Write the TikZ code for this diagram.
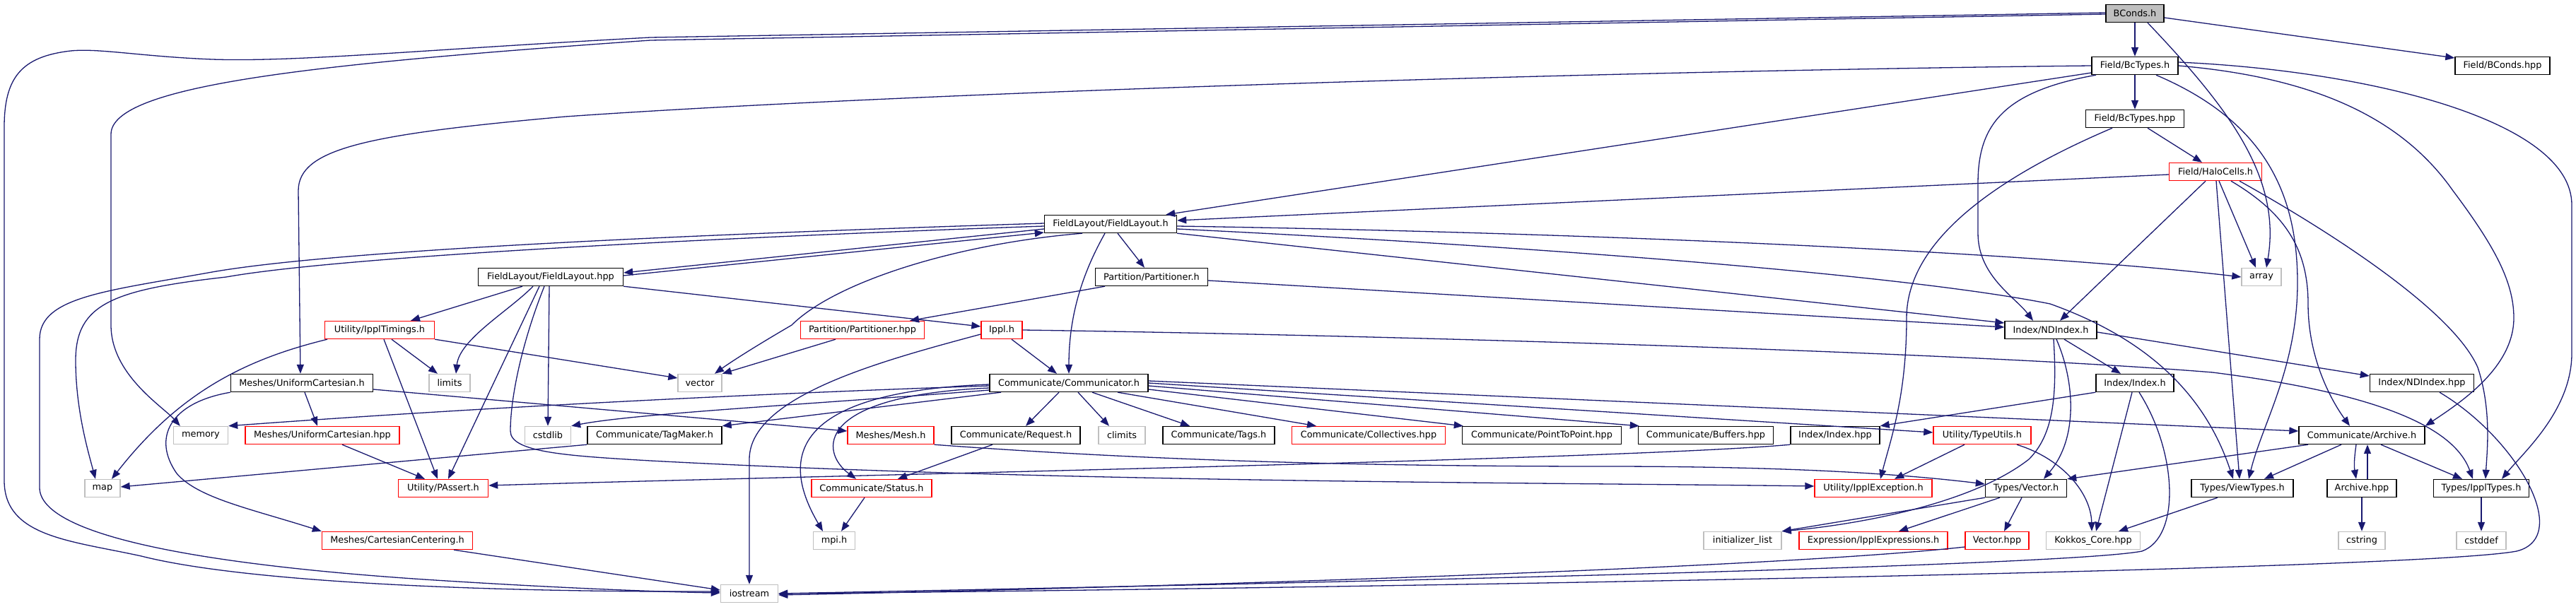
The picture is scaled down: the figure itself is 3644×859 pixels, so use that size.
\documentclass[tikz,border=0pt]{standalone}
\usepackage{fontspec}
\setmainfont{DejaVu Sans}
\usetikzlibrary{arrows.meta}
\definecolor{edgeblue}{HTML}{191970}
\definecolor{sysgray}{HTML}{BFBFBF}
\definecolor{trunc}{HTML}{FF0000}
\tikzset{
 box/.style={rectangle, minimum height=25pt, inner sep=0pt, line width=1.4pt, font=\fontsize{12.85pt}{15pt}\selectfont, text=black},
 doc/.style={box, draw=black},
 trn/.style={box, draw=trunc},
 sys/.style={box, draw=sysgray},
 root/.style={box, draw=black, fill=sysgray},
 e/.style={draw=edgeblue, line width=1.3pt, -{Triangle[length=13pt,width=10pt]}},
}
\begin{document}
\begin{tikzpicture}[x=1pt,y=-1pt]
\useasboundingbox (0,0) rectangle (3644,859);
\fill[white] (0,0) rectangle (3644,859);
% nodes
\node[root, minimum width=82pt] (bconds) at (3020,19) {BConds.h};
\node[doc, minimum width=122pt] (bctypesh) at (3020,93) {Field/BcTypes.h};
\node[doc, minimum width=134pt] (bcondshpp) at (3540,93) {Field/BConds.hpp};
\node[doc, minimum width=139pt] (bctypeshpp) at (3020,168) {Field/BcTypes.hpp};
\node[trn, minimum width=131pt] (halo) at (3134,243) {Field/HaloCells.h};
\node[doc, minimum width=187pt] (flh) at (1571,317) {FieldLayout/FieldLayout.h};
\node[doc, minimum width=205pt] (flhpp) at (779,392) {FieldLayout/FieldLayout.hpp};
\node[doc, minimum width=159pt] (parth) at (1629,392) {Partition/Partitioner.h};
\node[sys, minimum width=56pt] (array) at (3199,392) {array};
\node[trn, minimum width=155pt] (timings) at (537,467) {Utility/IpplTimings.h};
\node[trn, minimum width=175pt] (parthpp) at (1220,467) {Partition/Partitioner.hpp};
\node[trn, minimum width=58pt] (ippl) at (1417,467) {Ippl.h};
\node[doc, minimum width=130pt] (ndindexh) at (2901,467) {Index/NDIndex.h};
\node[doc, minimum width=201pt] (unicarth) at (427,542) {Meshes/UniformCartesian.h};
\node[sys, minimum width=58pt] (limits) at (636,542) {limits};
\node[sys, minimum width=62pt] (vector) at (990,542) {vector};
\node[doc, minimum width=224pt] (comm) at (1512,542) {Communicate/Communicator.h};
\node[doc, minimum width=110pt] (indexh) at (3020,542) {Index/Index.h};
\node[doc, minimum width=147pt] (ndindexhpp) at (3426,542) {Index/NDIndex.hpp};
\node[sys, minimum width=77pt] (memory) at (284,616) {memory};
\node[trn, minimum width=218pt] (unicarthpp) at (456,616) {Meshes/UniformCartesian.hpp};
\node[sys, minimum width=65pt] (cstdlib) at (775,616) {cstdlib};
\node[doc, minimum width=190pt] (tagmaker) at (926,616) {Communicate/TagMaker.h};
\node[trn, minimum width=122pt] (mesh) at (1260,616) {Meshes/Mesh.h};
\node[doc, minimum width=182pt] (request) at (1437,616) {Communicate/Request.h};
\node[sys, minimum width=66pt] (climits) at (1587,616) {climits};
\node[doc, minimum width=158pt] (tags) at (1724,616) {Communicate/Tags.h};
\node[trn, minimum width=217pt] (collectives) at (1936,616) {Communicate/Collectives.hpp};
\node[doc, minimum width=225pt] (p2p) at (2181,616) {Communicate/PointToPoint.hpp};
\node[doc, minimum width=191pt] (buffers) at (2413,616) {Communicate/Buffers.hpp};
\node[doc, minimum width=126pt] (indexhpp) at (2596,616) {Index/Index.hpp};
\node[trn, minimum width=138pt] (typeutils) at (2804,616) {Utility/TypeUtils.h};
\node[doc, minimum width=178pt] (archiveh) at (3341,616) {Communicate/Archive.h};
\node[sys, minimum width=50pt] (map) at (145,691) {map};
\node[trn, minimum width=127pt] (passert) at (627,691) {Utility/PAssert.h};
\node[trn, minimum width=170pt] (status) at (1233,691) {Communicate/Status.h};
\node[trn, minimum width=166pt] (ipplexc) at (2650,691) {Utility/IpplException.h};
\node[doc, minimum width=115pt] (vectorh) at (2866,691) {Types/Vector.h};
\node[doc, minimum width=144pt] (viewtypes) at (3172,691) {Types/ViewTypes.h};
\node[doc, minimum width=98pt] (archivehpp) at (3341,691) {Archive.hpp};
\node[doc, minimum width=135pt] (ippltypes) at (3510,691) {Types/IpplTypes.h};
\node[trn, minimum width=213pt] (cartcent) at (562,765) {Meshes/CartesianCentering.h};
\node[sys, minimum width=59pt] (mpih) at (1180,765) {mpi.h};
\node[sys, minimum width=110pt] (initlist) at (2465,765) {initializer\_list};
\node[trn, minimum width=210pt] (expr) at (2650,765) {Expression/IpplExpressions.h};
\node[trn, minimum width=90pt] (vectorhpp) at (2825,765) {Vector.hpp};
\node[sys, minimum width=133pt] (kokkos) at (2961,765) {Kokkos\_Core.hpp};
\node[sys, minimum width=66pt] (cstring) at (3341,765) {cstring};
\node[sys, minimum width=70pt] (cstddef) at (3510,765) {cstddef};
\node[sys, minimum width=81pt] (iostream) at (1060,840) {iostream};
% BConds.h
\draw[e] (bconds.south) -- (bctypesh.north);
\draw[e] ([yshift=-6pt]bconds.east) -- ([yshift=11pt]bcondshpp.west);
\draw[e] ([xshift=18pt]bconds.south) .. controls (3150,150) and (3228,250) .. ([xshift=7pt]array.north);
\draw[e] ([yshift=-1pt]bconds.west) -- (920,57) .. controls (450,90) and (157,120) .. (157,190) -- (157,460) .. controls (157,530) and (230,575) .. ([xshift=10pt]memory.north west);
\draw[e] ([yshift=1pt]bconds.west) -- (920,53) .. controls (600,70) and (420,88) .. (300,84) .. controls (200,80) and (140,68) .. (100,72) .. controls (30,80) and (6,110) .. (6,180) -- (6,680) .. controls (6,760) and (100,765) .. (200,787) .. controls (350,825) and (700,838) .. ([yshift=3pt]iostream.west);
% Field/BcTypes.h
\draw[e] (bctypesh.south) -- (bctypeshpp.north);
\draw[e] ([yshift=-10pt]bctypesh.west) -- ([xshift=-16pt]flh.north east);
\draw[e] (bctypesh.west) .. controls (2300,100) and (1300,130) .. (800,165) .. controls (520,190) and (422,210) .. (422,270) -- ([xshift=-2pt]unicarth.north);
\draw[e] ([xshift=-55pt]bctypesh.south) .. controls (2830,130) and (2798,180) .. (2798,260) -- (2798,330) .. controls (2798,390) and (2850,420) .. ([xshift=-25pt]ndindexh.north);
\draw[e] ([xshift=30pt]bctypesh.south) .. controls (3200,170) and (3250,270) .. (3250,400) .. controls (3250,520) and (3200,600) .. ([xshift=9pt]viewtypes.north);
\draw[e] (bctypesh.east) .. controls (3280,110) and (3400,170) .. (3470,270) .. controls (3530,350) and (3556,400) .. (3556,450) .. controls (3556,520) and (3480,570) .. (archiveh.north east);
\draw[e] ([yshift=5pt]bctypesh.east) .. controls (3350,100) and (3638,170) .. (3638,290) -- (3638,500) .. controls (3638,580) and (3570,640) .. ([xshift=29pt]ippltypes.north);
% Field/BcTypes.hpp
\draw[e] ([xshift=18pt]bctypeshpp.south) -- ([xshift=-19pt]halo.north);
\draw[e] ([xshift=-32pt]bctypeshpp.south) .. controls (2850,240) and (2697,330) .. (2697,450) .. controls (2697,560) and (2675,620) .. ([xshift=10pt]ipplexc.north);
% Field/HaloCells.h
\draw[e] ([yshift=-4pt]halo.west) -- ([yshift=5pt]flh.east);
\draw[e] ([xshift=-14pt]halo.south) -- ([xshift=13pt]ndindexh.north);
\draw[e] ([xshift=5pt]halo.south) -- ([xshift=-8pt]array.north);
\draw[e] ([xshift=1pt]halo.south) -- ([xshift=-4pt]viewtypes.north);
\draw[e] ([xshift=22pt]halo.south) .. controls (3230,300) and (3265,350) .. (3265,430) .. controls (3265,510) and (3300,570) .. ([xshift=-17pt]archiveh.north);
\draw[e] ([xshift=34pt]halo.south) .. controls (3300,330) and (3470,440) .. (3505,520) .. controls (3525,580) and (3518,640) .. ([xshift=6pt]ippltypes.north);
% FieldLayout/FieldLayout.h
\draw[e] ([yshift=-7pt]flh.west) -- ([yshift=6pt]flhpp.east);
\draw[e] ([yshift=2pt]flhpp.east) -- ([yshift=-12pt]flh.west);
\draw[e] ([xshift=10pt]flh.south) -- ([xshift=-10pt]parth.north);
\draw[e] ([xshift=-8pt]flh.south) .. controls (1535,380) and (1512,440) .. (comm.north);
\draw[e] ([xshift=-40pt]flh.south) .. controls (1350,345) and (1180,400) .. (1120,460) .. controls (1060,495) and (1030,515) .. ([xshift=21pt]vector.north);
\draw[e] ([yshift=-3pt]flh.east) .. controls (2300,330) and (2900,360) .. (array.west);
\draw[e] ([yshift=-7pt]flh.east) .. controls (2200,350) and (2700,390) .. (2900,430) .. controls (3040,480) and (3120,560) .. ([xshift=-13pt]viewtypes.north);
\draw[e] (flh.south east) -- ([yshift=10pt]ndindexh.west);
\draw[e] ([yshift=1pt]flh.west) .. controls (1100,328) and (500,350) .. (300,385) .. controls (150,412) and (56,420) .. (56,480) -- (56,690) .. controls (56,760) and (300,800) .. (600,820) .. controls (800,833) and (950,838) .. ([yshift=1pt]iostream.west);
\draw[e] ([yshift=-3pt]flh.west) .. controls (1100,333) and (500,360) .. (320,392) .. controls (160,410) and (107,430) .. (107,510) .. controls (107,580) and (125,640) .. ([xshift=-10pt]map.north);
% Partition
\draw[e] ([yshift=-5pt]parth.east) -- ([yshift=4pt]ndindexh.west);
\draw[e] ([xshift=-66pt]parth.south) -- ([xshift=67pt]parthpp.north);
\draw[e] ([xshift=-38pt]parthpp.south) -- (vector.north east);
% FieldLayout/FieldLayout.hpp
\draw[e] ([xshift=-40pt]flhpp.south) -- ([xshift=44pt]timings.north);
\draw[e] ([xshift=-25pt]flhpp.south) .. controls (720,440) and (650,480) .. ([xshift=9pt]limits.north);
\draw[e] ([xshift=-16pt]flhpp.south) -- ([xshift=7pt]passert.north);
\draw[e] ([xshift=-2pt]flhpp.south) -- (cstdlib.north);
\draw[e] ([xshift=-9pt]flhpp.south) .. controls (740,480) and (722,560) .. (722,610) .. controls (722,640) and (800,645) .. (920,652) .. controls (1500,683) and (2200,683) .. ([yshift=3pt]ipplexc.west);
\draw[e] (flhpp.south east) -- ([yshift=5pt]ippl.west);
% Utility/IpplTimings.h
\draw[e] ([xshift=17pt]timings.south) -- ([xshift=-17pt]limits.north);
\draw[e] ([xshift=6pt]timings.south) -- ([xshift=-8pt]passert.north);
\draw[e] (timings.south east) -- ([yshift=7pt]vector.west);
\draw[e] ([xshift=-74pt]timings.south) .. controls (340,510) and (250,560) .. ([xshift=13pt]map.north);
% Meshes
\draw[e] ([xshift=4pt]unicarth.south) -- ([xshift=-7pt]unicarthpp.north);
\draw[e] ([yshift=-9pt]unicarth.east) -- ([yshift=6pt]mesh.west);
\draw[e] (unicarth.south west) .. controls (240,570) and (215,620) .. (250,670) .. controls (280,705) and (355,720) .. (cartcent.north west);
\draw[e] ([xshift=28pt]unicarthpp.south) -- ([xshift=-26pt]passert.north);
\draw[e] ([xshift=80pt]cartcent.south) -- ([yshift=5pt]iostream.west);
\draw[e] (mesh.south east) .. controls (1600,650) and (1900,660) .. (2270,660) .. controls (2550,660) and (2700,672) .. ([yshift=6pt]vectorh.west);
% Ippl.h
\draw[e] ([xshift=14pt]ippl.south) -- ([xshift=-17pt]comm.north);
\draw[e] ([yshift=-6pt]ippl.west) .. controls (1250,510) and (1060,560) .. (1060,650) -- (iostream.north);
\draw[e] (ippl.east) .. controls (2000,475) and (2800,500) .. (3130,527) .. controls (3350,555) and (3470,600) .. ([xshift=-12pt]ippltypes.north);
% Communicate/Communicator.h
\draw[e] ([yshift=-4pt]comm.west) .. controls (1100,556) and (700,575) .. (memory.north east);
\draw[e] ([yshift=-10pt]comm.west) .. controls (1150,572) and (900,585) .. (cstdlib.north east);
\draw[e] ([xshift=-96pt]comm.south) -- (tagmaker.north east);
\draw[e] ([yshift=-7pt]comm.west) .. controls (1150,560) and (1160,640) .. ([xshift=-22pt]status.north);
\draw[e] ([yshift=-2pt]comm.west) .. controls (1100,555) and (1110,660) .. ([xshift=-16pt]mpih.north);
\draw[e] ([xshift=-14pt]comm.south) -- ([xshift=14pt]request.north);
\draw[e] ([xshift=13pt]comm.south) -- ([xshift=-18pt]climits.north);
\draw[e] ([xshift=33pt]comm.south) -- ([xshift=-41pt]tags.north);
\draw[e] ([xshift=69pt]comm.south) -- ([xshift=-74pt]collectives.north);
\draw[e] ([yshift=-9pt]comm.east) -- ([xshift=2pt]p2p.north west);
\draw[e] ([yshift=-4pt]comm.east) -- ([xshift=2pt]buffers.north west);
\draw[e] (comm.east) -- ([yshift=4pt]typeutils.west);
\draw[e] ([yshift=3pt]comm.east) -- ([yshift=6pt]archiveh.west);
% Index
\draw[e] ([xshift=19pt]ndindexh.south) -- ([xshift=-20pt]indexh.north);
\draw[e] ([yshift=-3pt]ndindexh.east) -- ([yshift=10pt]ndindexhpp.west);
\draw[e] ([xshift=8pt]ndindexh.south) .. controls (2935,540) and (2940,620) .. ([xshift=25pt]vectorh.north);
\draw[e] ([xshift=4pt]ndindexh.south) .. controls (2910,560) and (2905,615) .. (2870,650) .. controls (2780,720) and (2600,745) .. (initlist.north east);
\draw[e] (indexh.south west) -- (indexhpp.north east);
\draw[e] ([xshift=-4pt]indexh.south) -- ([xshift=4pt]kokkos.north);
\draw[e] ([xshift=6pt]indexh.south) .. controls (3080,640) and (3085,760) .. (3030,780) .. controls (2900,805) and (1500,832) .. (iostream.east);
\draw[e] ([xshift=25pt]ndindexhpp.south) .. controls (3560,620) and (3640,760) .. (3560,780) .. controls (3400,810) and (1600,836) .. (iostream.east);
\draw[e] (indexhpp.south west) .. controls (2300,650) and (1200,672) .. ([yshift=4pt]passert.east);
% Utility/TypeUtils.h
\draw[e] ([xshift=-25pt]typeutils.south) -- ([xshift=30pt]ipplexc.north);
\draw[e] ([xshift=49pt]typeutils.south) .. controls (2920,650) and (2958,700) .. ([xshift=-2pt]kokkos.north);
% Communicate/Archive.h
\draw[e] ([xshift=-76pt]archiveh.south) -- (vectorh.north east);
\draw[e] ([xshift=-29pt]archiveh.south) -- ([xshift=31pt]viewtypes.north);
\draw[e] ([xshift=-8pt]archiveh.south) .. controls ([xshift=-11pt]archiveh.south |- 0,650) and ([xshift=-11pt]archivehpp.north |- 0,660) .. ([xshift=-8pt]archivehpp.north);
\draw[e] ([xshift=8pt]archivehpp.north) -- ([xshift=8pt]archiveh.south);
\draw[e] ([xshift=27pt]archiveh.south) -- ([xshift=-27pt]ippltypes.north);
\draw[e] (archivehpp.south) -- (cstring.north);
\draw[e] (ippltypes.south) -- (cstddef.north);
\draw[e] ([xshift=-35pt]viewtypes.south) -- ([xshift=36pt]kokkos.north);
% Types/Vector.h
\draw[e] ([xshift=-6pt]vectorh.south) -- ([xshift=10pt]vectorhpp.north);
\draw[e] (vectorh.south west) -- (initlist.north east);
\draw[e] ([xshift=-37pt]vectorh.south) -- ([xshift=36pt]expr.north);
\draw[e] ([yshift=-9pt]vectorhpp.west) .. controls (2500,805) and (1600,832) .. ([yshift=-2pt]iostream.east);
% Communicate/Request.h, Status.h, TagMaker.h
\draw[e] ([xshift=-33pt]request.south) -- ([xshift=37pt]status.north);
\draw[e] ([xshift=-10pt]status.south) -- ([xshift=10pt]mpih.north);
\draw[e] (tagmaker.south west) -- ([yshift=2pt]map.east);
\end{tikzpicture}
\end{document}
